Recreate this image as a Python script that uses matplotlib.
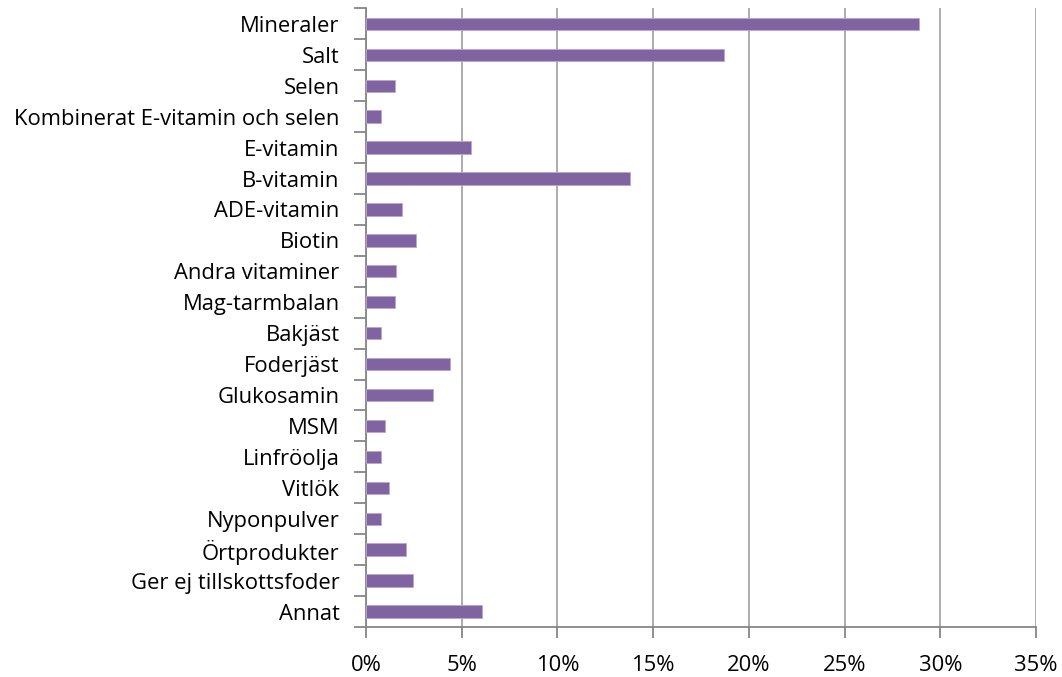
import numpy as np
import matplotlib.pyplot as plt
from matplotlib.ticker import FuncFormatter, FixedLocator

kategorier = ["Mineraler", "Salt", "Selen", "Kombinerat E-vitamin och selen",
              "E-vitamin", "B-vitamin", "ADE-vitamin", "Biotin",
              "Andra vitaminer", "Mag-tarmbalan", "Bakjäst", "Foderjäst",
              "Glukosamin", "MSM", "Linfröolja", "Vitlök", "Nyponpulver",
              "Örtprodukter", "Ger ej tillskottsfoder", "Annat"]
andel = [28.9, 18.7, 1.5, 0.78, 5.5, 13.8, 1.9, 2.6, 1.57, 1.5, 0.78, 4.4,
         3.5, 0.97, 0.78, 1.18, 0.78, 2.09, 2.47, 6.08]
xticks = [0, 5, 10, 15, 20, 25, 30, 35]

plt.rcParams['font.family'] = ['Open Sans', 'DejaVu Sans']

fig = plt.figure(figsize=(10.62, 6.77), dpi=100)
ax = fig.add_axes([0.3446, 0.0739, 0.9755 - 0.3446, 0.9876 - 0.0739])

y = np.arange(len(kategorier))
ax.barh(y, andel, height=0.4, color="#8064A2", edgecolor="#B9A6D0", linewidth=0.6, zorder=3)

ax.set_ylim(len(kategorier) - 0.5, -0.5)
ax.set_xlim(0, 35)
ax.set_xticks(xticks)
ax.xaxis.set_major_formatter(FuncFormatter(lambda v, p: f"{v:.0f}%"))
ax.xaxis.grid(True, color="#A6A6A6", linewidth=1.3, zorder=0)

ax.set_yticks(y)
ax.set_yticklabels(kategorier)
ax.yaxis.set_minor_locator(FixedLocator(np.arange(-0.5, len(kategorier), 1)))
ax.tick_params(axis='y', which='major', length=0, pad=19, labelsize=15.8, colors="#000000")
ax.tick_params(axis='y', which='minor', length=9, width=1.3, color="#868686")
ax.tick_params(axis='x', which='major', length=8, width=1.3, color="#868686", labelsize=15.8, pad=12)

for s in ["top", "right"]:
    ax.spines[s].set_visible(False)
for s in ["left", "bottom"]:
    ax.spines[s].set_color("#868686")
    ax.spines[s].set_linewidth(1.3)

fig.savefig("out.png", dpi=100)
